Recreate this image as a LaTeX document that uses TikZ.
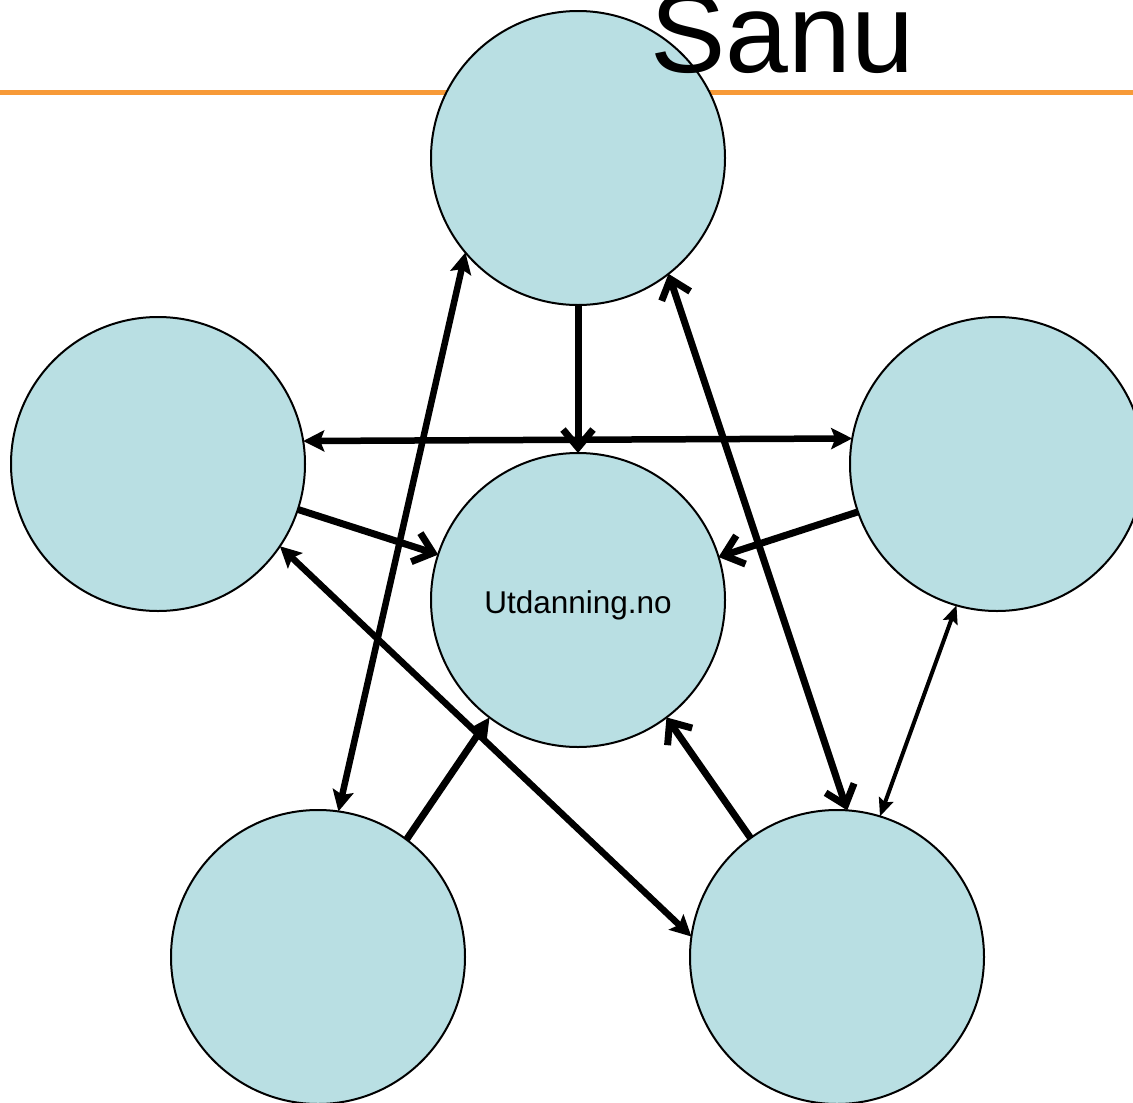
\documentclass[tikz,border=0pt]{standalone}
\usepackage{fontspec}
\setmainfont{Liberation Sans}
\usetikzlibrary{arrows.meta}
\definecolor{circfill}{HTML}{B9DFE3}
\definecolor{rulecol}{HTML}{F79A38}
\begin{document}
\begin{tikzpicture}[x=1pt,y=-1pt,
  circ/.style={circle,draw=black,line width=2pt,fill=circfill,minimum size=294pt,inner sep=0pt,outer sep=0pt},
  thickconn/.style={line width=7pt},
  medconn/.style={line width=6.5pt},
  thinconn/.style={line width=4pt},
  openhead/.style={-{Straight Barb[length=18pt,width=30pt]}},
  openboth/.style={{Straight Barb[length=18pt,width=30pt]}-{Straight Barb[length=18pt,width=30pt]}},
  filledhead/.style={-{Stealth[length=21pt,width=21pt,inset=4pt]}},
  filledboth/.style={{Stealth[length=21pt,width=21pt,inset=4pt]}-{Stealth[length=21pt,width=21pt,inset=4pt]}},
  thinboth/.style={{Stealth[length=18pt,width=15pt,inset=3pt]}-{Stealth[length=18pt,width=15pt,inset=3pt]}}
]
\useasboundingbox (0,0) rectangle (1133,1103);
\fill[rulecol] (0,89.5) rectangle (1133,95);
\node[circ] (top) at (578,158) {};
\node[circ] (left) at (158,464) {};
\node[circ] (right) at (997,464) {};
\node[circ] (ctr) at (578,600) {\raisebox{0pt}[\dimexpr\height+11pt\relax]{\fontsize{31.5}{36}\selectfont Utdanning.no}};
\node[circ] (bl) at (318,957) {};
\node[circ] (br) at (837,957) {};
\node[anchor=base west,inner sep=0pt] (title) at (650,72) {\fontsize{113}{120}\selectfont Sanu};

\draw[thickconn,openhead] (top.-90) -- (ctr.90);
\draw[medconn,filledboth] (left.9.3) -- (right.170.7);
\draw[thickconn,openhead] (left.-18.2) -- (ctr.162.4);
\draw[thickconn,openhead] (right.-161.8) -- (ctr.17.4);
\draw[medconn,filledboth] (top.220.4) -- (bl.82.3);
\draw[thickconn,openboth] (top.-52.5) -- (br.86);
\draw[medconn,filledboth] (left.-34.3) -- (br.172.6);
\draw[thickconn,filledhead] (bl.53.8) -- (ctr.233.7);
\draw[thickconn,openhead] (br.126.2) -- (ctr.-53.7);
\draw[thinconn,thinboth] (right.-106.3) -- (br.73.2);
\end{tikzpicture}
\end{document}
